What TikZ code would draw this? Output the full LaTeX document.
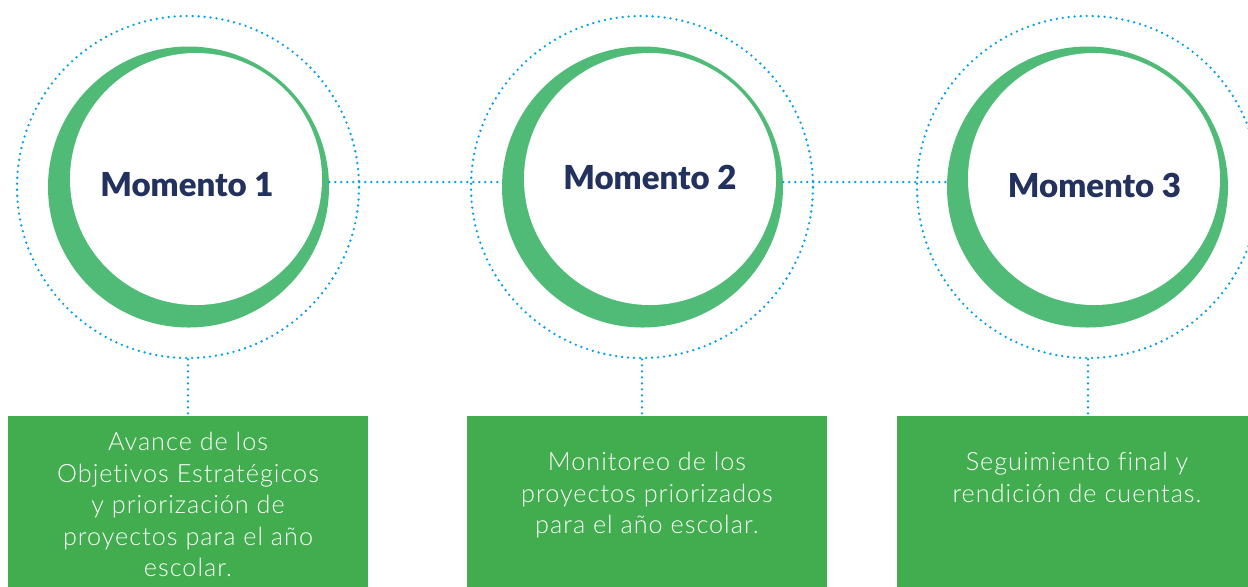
\documentclass[tikz,border=0pt]{standalone}
\usepackage{fontspec}
\setmainfont{Lato}[UprightFont=* Light, BoldFont=* Black]
\newfontfamily\notefont{Lato}[UprightFont=* Light, LetterSpace=4, Ligatures=NoCommon]
\usetikzlibrary{positioning}
\definecolor{ringgreen}{RGB}{79,187,118}
\definecolor{boxgreen}{RGB}{66,173,78}
\definecolor{dotblue}{RGB}{0,160,230}
\definecolor{titlenavy}{RGB}{35,49,94}
\tikzset{
  dotline/.style={draw=dotblue, line width=1.3pt, line cap=round, dash pattern=on 0pt off 3pt}, % the blue dotted lines
  halo/.style={circle, dotline, minimum size=171pt, inner sep=0pt}, % outer dotted circle
  ring/.style={circle, fill=ringgreen, minimum size=140.5pt, inner sep=0pt}, % green disc
  hole/.style={circle, fill=white, minimum size=126pt, inner sep=0pt}, % white disc, shifted up right
  title/.style={font=\bfseries\fontsize{16.5}{20}\selectfont, text=titlenavy},
  box/.style={fill=boxgreen, minimum width=180pt, minimum height=95pt, anchor=north, inner sep=0pt},
  note/.style={text=white, align=center, font=\notefont\fontsize{12.6}{15.75}\selectfont, inner sep=0pt, anchor=north},
}

\begin{document}
\begin{tikzpicture}[x=0.5pt,y=-0.5pt]
  \clip (0,0) rectangle (1248,586);

  \node[halo] (h1) at (188,187) {};
  \node[ring] (g1) at (188.5,187) {};
  \node[hole] (w1) at (196,179) {};
  \node[title] (m1) at (187,185) {Momento 1};

  \node[halo] (h2) at (642,187) {};
  \node[ring] (g2) at (642.5,187) {};
  \node[hole] (w2) at (650,179) {};
  \node[title] (m2) at (650,177) {Momento 2};

  \node[halo] (h3) at (1088,187) {};
  \node[ring] (g3) at (1087.5,187) {};
  \node[hole] (w3) at (1094,179) {};
  \node[title] (m3) at (1094.5,185) {Momento 3};

  \node[box] (b1) at (188,416) {};
  \node[box] (b2) at (647,416) {};
  \node[box] (b3) at (1077,416) {};

  \node[note, below=8pt of b1.north] (n1) {Avance de los\\Objetivos Estratégicos\\y priorización de\\proyectos para el año\\escolar.};
  \node[note, below=18pt of b2.north] (n2) {Monitoreo de los\\proyectos priorizados\\para el año escolar.};
  \node[note, below=18pt of b3.north] (n3) {Seguimiento final y\\rendición de cuentas.};

  \draw[dotline]
    (g1.2) -- (g2.178)
    (g2.2) -- (g3.178)
    (h1.south) -- (h1.south |- b1.north)
    (h2.south) -- (h2.south |- b2.north)
    (h3.south) -- (h3.south |- b3.north);
\end{tikzpicture}
\end{document}
